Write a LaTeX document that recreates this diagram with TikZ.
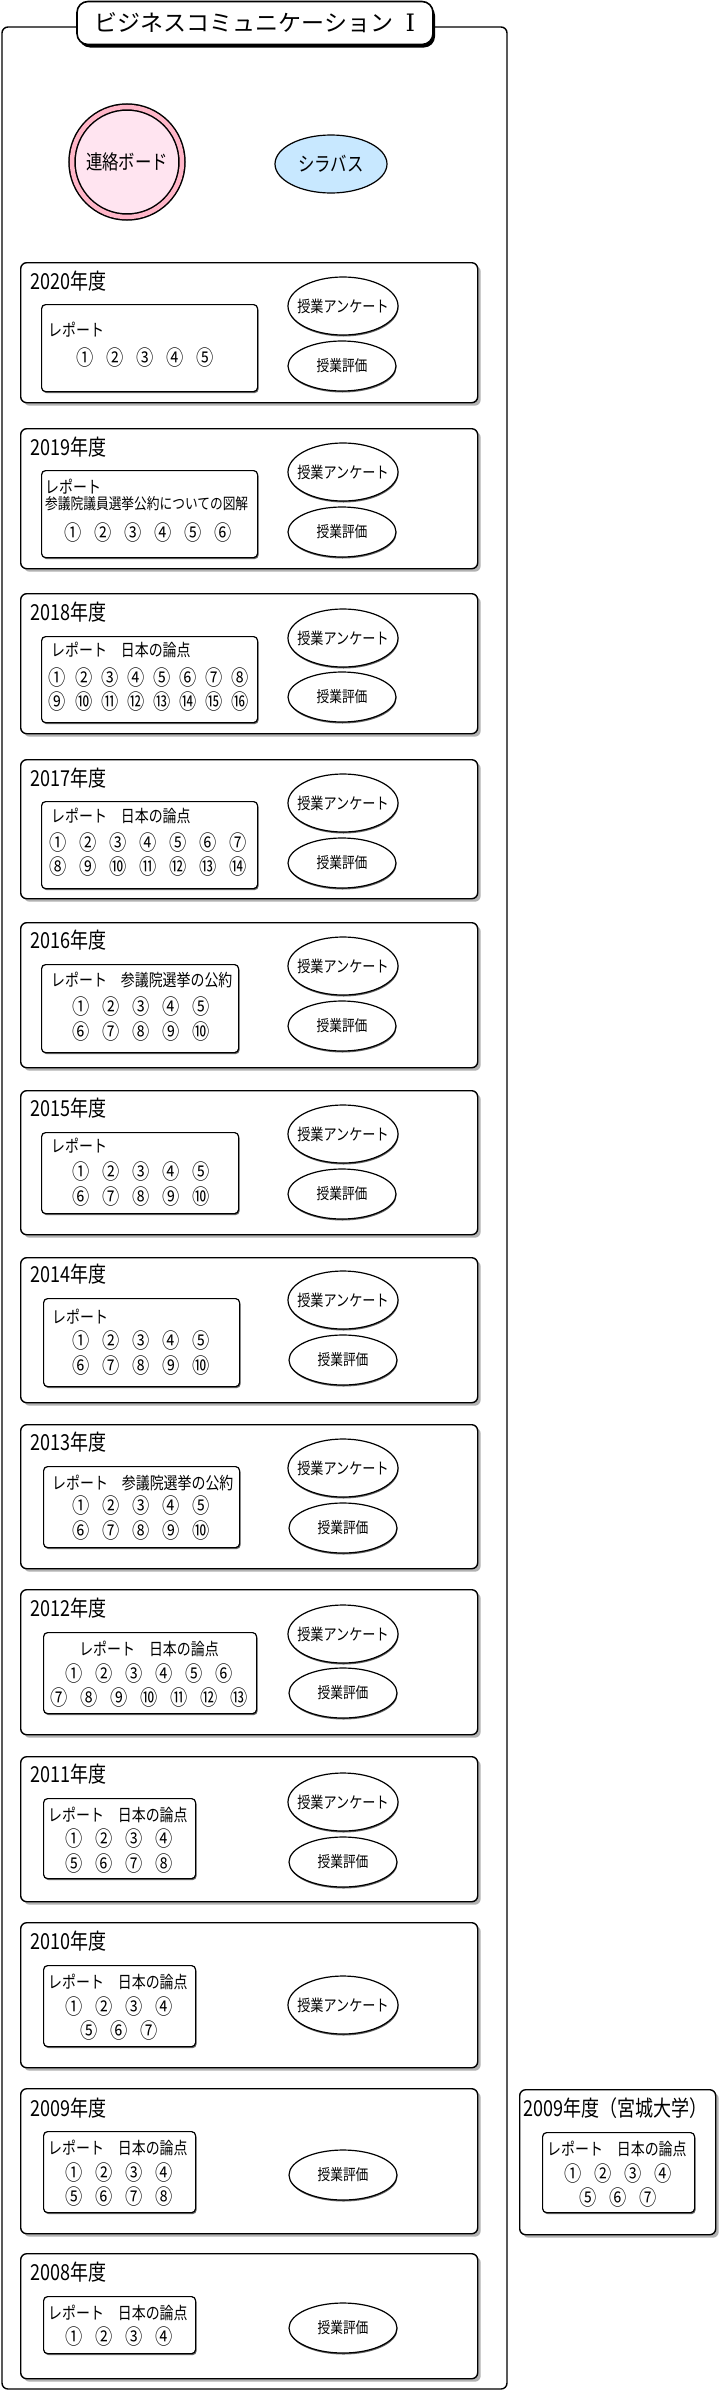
\documentclass[tikz,border=0pt]{standalone}
\usepackage{fontspec}
\setmainfont{Noto Sans CJK JP}
\newfontfamily\jp[FakeStretch=0.82]{Noto Sans CJK JP}
\newfontfamily\jpwide{Noto Sans CJK JP}
\newfontfamily\numeral{DejaVu Serif}
\usetikzlibrary{shapes.geometric, shadows}
\definecolor{ringpink}{RGB}{255,182,200}
\definecolor{boardpink}{RGB}{255,228,240}
\definecolor{sylblue}{RGB}{200,232,255}
\tikzset{
    frame/.style={draw, line width=1.4pt, rounded corners=6pt},
    titlebox/.style={rectangle, draw, line width=1.6pt, rounded corners=11pt, fill=white, minimum width=356pt, minimum height=43pt, inner sep=0pt, font=\jpwide\fontsize{23}{26}\selectfont, drop shadow={shadow xshift=2pt, shadow yshift=-3pt, fill=black, opacity=1}},
    board/.style={circle, draw, line width=1.5pt, double=ringpink, double distance=4.5pt, fill=boardpink, minimum size=110pt, inner sep=0pt, font=\jp\fontsize{20}{22}\selectfont},
    syllabus/.style={ellipse, draw, line width=1.2pt, fill=sylblue, minimum width=112pt, minimum height=58pt, inner sep=0pt, font=\jp\fontsize{20}{22}\selectfont},
    yearbox/.style={rectangle, draw, line width=1.4pt, rounded corners=6pt, fill=white, minimum width=457pt, anchor=north west, inner sep=0pt, drop shadow={shadow xshift=3pt, shadow yshift=-3pt, fill=black!30, opacity=1}},
    yearlabel/.style={anchor=west, inner sep=0pt, font=\jp\fontsize{22}{24}\selectfont},
    repbox/.style={rectangle, draw, line width=1.2pt, rounded corners=4pt, fill=white, anchor=north west, inner sep=0pt, drop shadow={shadow xshift=1pt, shadow yshift=-1.5pt, fill=black!60, opacity=1}},
    reptext/.style={anchor=west, inner sep=0pt, font=\jp\fontsize{17}{20}\selectfont},
    subtext/.style={anchor=west, inner sep=0pt, font=\jp\fontsize{15.5}{18}\selectfont},
    nums/.style={inner sep=0pt, font={\jp\fontsize{21}{24}\selectfont\spaceskip=12.8pt\relax}},
    numstight/.style={inner sep=0pt, font={\jp\fontsize{21}{24}\selectfont\spaceskip=8.9pt\relax}},
    enquete/.style={ellipse, draw, line width=1.2pt, fill=white, minimum width=110pt, minimum height=58pt, inner xsep=-8pt, inner ysep=0pt, font=\jp\fontsize{16}{18}\selectfont, drop shadow={shadow xshift=0.5pt, shadow yshift=-1.5pt, fill=black!60, opacity=1}},
    evaluation/.style={ellipse, draw, line width=1.2pt, fill=white, minimum width=108pt, minimum height=50pt, inner sep=0pt, font=\jp\fontsize{15.5}{18}\selectfont, drop shadow={shadow xshift=0.5pt, shadow yshift=-1.5pt, fill=black!60, opacity=1}},
}
\begin{document}
\begin{tikzpicture}[x=1pt, y=-1pt]
    \fill[white] (0,0) rectangle (721,2396);
    \useasboundingbox (0,0) rectangle (721,2396);

    % Outer frame and title
    \draw[frame] (2,27) rectangle (507,2389);
    \node[titlebox] (title) at (255,23) {ビジネスコミュニケーション\hspace{12pt}{\numeral\fontsize{24}{26}\selectfont Ⅰ}};

    \node[board] (board) at (127,162) {連絡ボード};
    \node[syllabus] (syl) at (331,164) {シラバス};

    % 2020
    \node[yearbox, minimum height=140pt] (box20) at (20,262) {};
    \node[yearlabel] (lab20) at (30,281) {2020年度};
    \node[repbox, minimum width=216pt, minimum height=87pt] (rep20) at (41,304) {};
    \node[reptext] (txt20) at (48,330) {レポート};
    \node[nums] (num20a) at (145,358) {① ② ③ ④ ⑤};
    \node[enquete] (enq20) at (343,306) {授業アンケート};
    \node[evaluation] (ev20) at (342,366) {授業評価};

    % 2019
    \node[yearbox, minimum height=140pt] (box19) at (20,428) {};
    \node[yearlabel] (lab19) at (30,447) {2019年度};
    \node[repbox, minimum width=216pt, minimum height=87pt] (rep19) at (41,470) {};
    \node[reptext] (txt19) at (45,487) {レポート};
    \node[subtext] (sub19) at (45,504) {参議院議員選挙公約についての図解};
    \node[nums] (num19a) at (148,533) {① ② ③ ④ ⑤ ⑥};
    \node[enquete] (enq19) at (343,472) {授業アンケート};
    \node[evaluation] (ev19) at (342,532) {授業評価};

    % 2018
    \node[yearbox, minimum height=140pt] (box18) at (20,593) {};
    \node[yearlabel] (lab18) at (30,612) {2018年度};
    \node[repbox, minimum width=216pt, minimum height=86pt] (rep18) at (41,636) {};
    \node[reptext] (txt18) at (51,650) {レポート　日本の論点};
    \node[numstight] (num18a) at (149,678) {① ② ③ ④ ⑤ ⑥ ⑦ ⑧};
    \node[numstight] (num18b) at (149,702) {⑨ ⑩ ⑪ ⑫ ⑬ ⑭ ⑮ ⑯};
    \node[enquete] (enq18) at (343,638) {授業アンケート};
    \node[evaluation] (ev18) at (342,697) {授業評価};

    % 2017
    \node[yearbox, minimum height=139pt] (box17) at (20,759) {};
    \node[yearlabel] (lab17) at (30,778) {2017年度};
    \node[repbox, minimum width=216pt, minimum height=87pt] (rep17) at (41,801) {};
    \node[reptext] (txt17) at (51,816) {レポート　日本の論点};
    \node[nums] (num17a) at (148,843) {① ② ③ ④ ⑤ ⑥ ⑦};
    \node[nums] (num17b) at (148,867) {⑧ ⑨ ⑩ ⑪ ⑫ ⑬ ⑭};
    \node[enquete] (enq17) at (343,803) {授業アンケート};
    \node[evaluation] (ev17) at (342,863) {授業評価};

    % 2016
    \node[yearbox, minimum height=145pt] (box16) at (20,922) {};
    \node[yearlabel] (lab16) at (30,940) {2016年度};
    \node[repbox, minimum width=197pt, minimum height=88pt] (rep16) at (41,964) {};
    \node[reptext] (txt16) at (51,980) {レポート　参議院選挙の公約};
    \node[nums] (num16a) at (141,1007) {① ② ③ ④ ⑤};
    \node[nums] (num16b) at (141,1032) {⑥ ⑦ ⑧ ⑨ ⑩};
    \node[enquete] (enq16) at (343,966) {授業アンケート};
    \node[evaluation] (ev16) at (342,1026) {授業評価};

    % 2015
    \node[yearbox, minimum height=144pt] (box15) at (20,1090) {};
    \node[yearlabel] (lab15) at (30,1108) {2015年度};
    \node[repbox, minimum width=197pt, minimum height=81pt] (rep15) at (41,1132) {};
    \node[reptext] (txt15) at (51,1146) {レポート};
    \node[nums] (num15a) at (141,1172) {① ② ③ ④ ⑤};
    \node[nums] (num15b) at (141,1197) {⑥ ⑦ ⑧ ⑨ ⑩};
    \node[enquete] (enq15) at (343,1134) {授業アンケート};
    \node[evaluation] (ev15) at (342,1194) {授業評価};

    % 2014
    \node[yearbox, minimum height=145pt] (box14) at (20,1257) {};
    \node[yearlabel] (lab14) at (30,1274) {2014年度};
    \node[repbox, minimum width=196pt, minimum height=88pt] (rep14) at (43,1298) {};
    \node[reptext] (txt14) at (52,1317) {レポート};
    \node[nums] (num14a) at (141,1341) {① ② ③ ④ ⑤};
    \node[nums] (num14b) at (141,1366) {⑥ ⑦ ⑧ ⑨ ⑩};
    \node[enquete] (enq14) at (343,1300) {授業アンケート};
    \node[evaluation] (ev14) at (343,1360) {授業評価};

    % 2013
    \node[yearbox, minimum height=144pt] (box13) at (20,1424) {};
    \node[yearlabel] (lab13) at (30,1442) {2013年度};
    \node[repbox, minimum width=196pt, minimum height=81pt] (rep13) at (43,1466) {};
    \node[reptext] (txt13) at (52,1483) {レポート　参議院選挙の公約};
    \node[nums] (num13a) at (141,1506) {① ② ③ ④ ⑤};
    \node[nums] (num13b) at (141,1531) {⑥ ⑦ ⑧ ⑨ ⑩};
    \node[enquete] (enq13) at (343,1468) {授業アンケート};
    \node[evaluation] (ev13) at (343,1528) {授業評価};

    % 2012
    \node[yearbox, minimum height=145pt] (box12) at (20,1589) {};
    \node[yearlabel] (lab12) at (30,1608) {2012年度};
    \node[repbox, minimum width=213pt, minimum height=81pt] (rep12) at (43,1632) {};
    \node[reptext, anchor=center] (txt12) at (149,1649) {レポート　日本の論点};
    \node[nums] (num12a) at (149,1673) {① ② ③ ④ ⑤ ⑥};
    \node[nums] (num12b) at (149,1697) {⑦ ⑧ ⑨ ⑩ ⑪ ⑫ ⑬};
    \node[enquete] (enq12) at (343,1634) {授業アンケート};
    \node[evaluation] (ev12) at (343,1693) {授業評価};

    % 2011
    \node[yearbox, minimum height=145pt] (box11) at (20,1756) {};
    \node[yearlabel] (lab11) at (30,1774) {2011年度};
    \node[repbox, minimum width=152pt, minimum height=80pt] (rep11) at (43,1798) {};
    \node[reptext] (txt11) at (48,1815) {レポート　日本の論点};
    \node[nums] (num11a) at (119,1838) {① ② ③ ④};
    \node[nums] (num11b) at (119,1863) {⑤ ⑥ ⑦ ⑧};
    \node[enquete] (enq11) at (343,1802) {授業アンケート};
    \node[evaluation] (ev11) at (343,1862) {授業評価};

    % 2010
    \node[yearbox, minimum height=145pt] (box10) at (20,1922) {};
    \node[yearlabel] (lab10) at (30,1941) {2010年度};
    \node[repbox, minimum width=152pt, minimum height=81pt] (rep10) at (43,1965) {};
    \node[reptext] (txt10) at (48,1982) {レポート　日本の論点};
    \node[nums] (num10a) at (119,2006) {① ② ③ ④};
    \node[nums] (num10b) at (119,2030) {⑤ ⑥ ⑦};
    \node[enquete] (enq10) at (343,2005) {授業アンケート};

    % 2009
    \node[yearbox, minimum height=145pt] (box09) at (20,2088) {};
    \node[yearlabel] (lab09) at (30,2108) {2009年度};
    \node[repbox, minimum width=152pt, minimum height=81pt] (rep09) at (43,2131) {};
    \node[reptext] (txt09) at (48,2148) {レポート　日本の論点};
    \node[nums] (num09a) at (119,2172) {① ② ③ ④};
    \node[nums] (num09b) at (119,2196) {⑤ ⑥ ⑦ ⑧};
    \node[evaluation] (ev09) at (343,2175) {授業評価};

    % 2008
    \node[yearbox, minimum height=125pt] (box08) at (20,2253) {};
    \node[yearlabel] (lab08) at (30,2272) {2008年度};
    \node[repbox, minimum width=152pt, minimum height=57pt] (rep08) at (43,2296) {};
    \node[reptext] (txt08) at (48,2313) {レポート　日本の論点};
    \node[nums] (num08a) at (119,2336) {① ② ③ ④};
    \node[evaluation] (ev08) at (343,2328) {授業評価};

    % 2009 (Miyagi)
    \node[yearbox, minimum width=196pt, minimum height=145pt] (boxmy) at (519,2089) {};
    \node[yearlabel] (labmy) at (523,2108) {2009年度（宮城大学）};
    \node[repbox, minimum width=152pt, minimum height=80pt] (repmy) at (542,2132) {};
    \node[reptext] (txtmy) at (547,2149) {レポート　日本の論点};
    \node[nums] (nummya) at (618,2173) {① ② ③ ④};
    \node[nums] (nummyb) at (618,2197) {⑤ ⑥ ⑦};
\end{tikzpicture}
\end{document}
